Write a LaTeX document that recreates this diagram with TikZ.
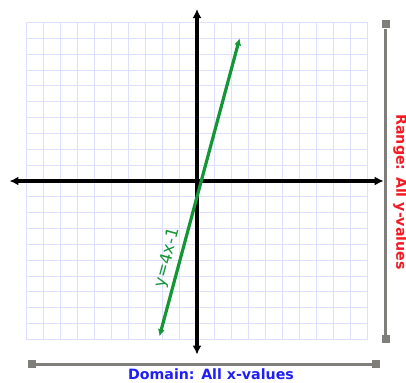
\documentclass[tikz,border=0pt]{standalone}
\usepackage{fontspec}
\setmainfont{DejaVu Sans}
\usetikzlibrary{arrows.meta}

\definecolor{gridblue}{RGB}{222,222,255}
\definecolor{linegreen}{RGB}{20,150,55}
\definecolor{bargray}{RGB}{128,126,122}
\definecolor{domblue}{RGB}{30,30,245}
\definecolor{rngred}{RGB}{245,25,35}

\begin{document}
\begin{tikzpicture}[
  x=17.05pt, y=15.85pt,
  axis/.style={line width=3.4pt, -{Latex[length=9pt,width=9pt]}},
  graph/.style={line width=3.2pt, linegreen, {Latex[length=7pt,width=7pt]}-{Latex[length=7pt,width=7pt]}},
  capbox/.style={rectangle, fill=bargray, minimum size=8.5pt, inner sep=0pt},
  bar/.style={line width=3pt, bargray},
  every node/.style={font=\bfseries\fontsize{14.2}{16}\selectfont}
]
\useasboundingbox (-11.554,11.420) rectangle (12.258,-12.681);

% grid
\draw[gridblue, line width=1pt, step=1] (-10,-10) grid (10,10);

% axes
\coordinate (xl) at (-11.0,0);
\coordinate (xr) at (10.95,0);
\coordinate (yt) at (0,10.85);
\coordinate (yb) at (0,-10.95);
\draw[axis] (0,0) -- (xl);
\draw[axis] (0,0) -- (xr);
\draw[axis] (0,0) -- (yt);
\draw[axis] (0,0) -- (yb);

% the line y=4x-1
\coordinate (lo) at (-2.2,-9.8);
\coordinate (hi) at (2.5,9);
\draw[graph] (lo) -- (hi);
\node[linegreen, font=\fontsize{16.5}{18}\selectfont, rotate=75] (eq) at (-1.72,-4.85) {y=4x-1};

% range bar
\node[capbox] (rtop) at (11.08,9.9) {};
\node[capbox] (rbot) at (11.08,-9.97) {};
\draw[bar] (rtop) -- (rbot);
\node[rngred, rotate=-90] (rng) at (11.92,-0.7) {Range: All y-values};

% domain bar
\node[capbox] (dleft) at (-9.68,-11.55) {};
\node[capbox] (dright) at (10.5,-11.55) {};
\draw[bar] (dleft) -- (dright);
\node[domblue] (dom) at (0.82,-12.18) {Domain: All x-values};

\end{tikzpicture}
\end{document}
